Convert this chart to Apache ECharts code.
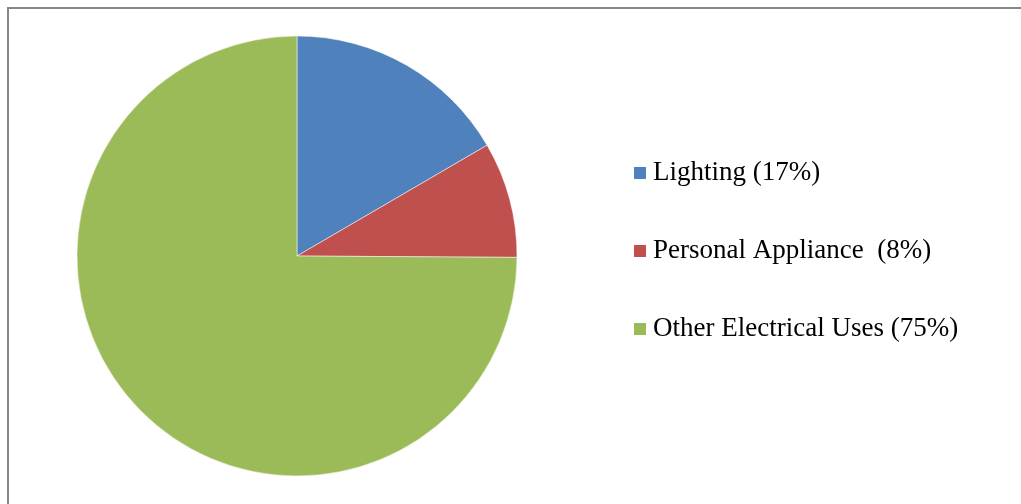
<!DOCTYPE html>
<html>
<head>
<meta charset="utf-8">
<script src="https://cdn.jsdelivr.net/npm/echarts@6/dist/echarts.min.js"></script>
<style>
html,body{margin:0;padding:0;background:#fff;}
#c{width:1021px;height:504px;}
</style>
</head>
<body>
<div id="c"></div>
<script>
const categories = ['Lighting (17%)', 'Personal Appliance  (8%)', 'Other Electrical Uses (75%)'];
const values = [16.6, 8.5, 74.9];
const colors = ['#4F81BD', '#C0504D', '#9BBB59'];

const chart = echarts.init(document.getElementById('c'), null, {renderer: 'canvas'});
chart.setOption({
  animation: false,
  backgroundColor: '#ffffff',
  color: colors,
  graphic: [
    {type: 'line', shape: {x1: 8, y1: 7, x2: 8, y2: 504}, style: {stroke: '#878787', lineWidth: 2}},
    {type: 'line', shape: {x1: 7, y1: 8, x2: 1021, y2: 8}, style: {stroke: '#878787', lineWidth: 2}}
  ],
  legend: {
    orient: 'vertical',
    left: 632,
    top: 159,
    padding: 0,
    itemWidth: 14,
    itemHeight: 14,
    itemGap: 50,
    icon: 'rect',
    selectedMode: false,
    textStyle: {
      fontFamily: 'Liberation Serif',
      fontSize: 27,
      lineHeight: 28,
      color: '#000',
      padding: [0, 0, 0, 1]
    },
    data: categories
  },
  series: [{
    type: 'pie',
    center: [297, 256],
    radius: 220,
    startAngle: 90,
    clockwise: true,
    label: {show: false},
    labelLine: {show: false},
    emphasis: {disabled: true},
    itemStyle: {borderColor: '#ffffff', borderWidth: 0.5},
    data: categories.map((n, i) => ({name: n, value: values[i]}))
  }]
});
</script>
</body>
</html>
